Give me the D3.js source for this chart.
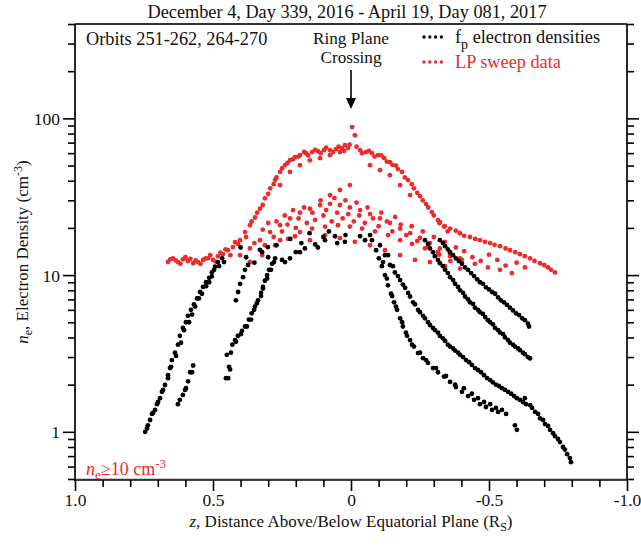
<!DOCTYPE html>
<html><head><meta charset="utf-8">
<script src="https://cdn.jsdelivr.net/npm/d3@7"></script>
<style>
body{margin:0;background:#fff}
text{font-family:"Liberation Serif","Times New Roman",serif;fill:#111}
</style>
</head><body>
<svg id="chart" width="641" height="548"></svg>
<script>
// Electron density vs. distance from the equatorial plane, [z (R_S), n_e (cm^-3)]
// f_p (upper hybrid / plasma frequency) densities, grouped by pass
const fpLeftOuter = [[.746,1.0],[.739,1.05],[.728,1.19],[.721,1.3],[.71,1.38],[.703,1.5],[.692,1.64],[.685,1.8],[.674,1.99],[.663,2.3],[.656,2.55],[.649,2.87],[.638,3.2],[.627,3.6],[.62,4.1],[.609,4.6],[.598,5.0],[.591,5.5],[.58,6.0],[.569,6.5],[.558,7.1],[.547,7.8],[.536,8.4],[.525,9.0],[.514,9.6],[.504,10.4],[.493,11.3],[.482,12.1],[.467,12.8]];
const fpLeftOuter2 = [[.736,1.10],[.717,1.32],[.699,1.55],[.681,1.85],[.663,2.2],[.652,2.6],[.634,3.05],[.616,3.7],[.605,4.45],[.587,5.0],[.576,5.6],[.565,6.3],[.551,7.1],[.54,7.6],[.525,8.5],[.514,9.0],[.504,9.8],[.496,10.8],[.478,11.4],[.46,12.1]];
const fpLeftInner = [[.62,1.6],[.601,1.85],[.59,2.1],[.583,2.4],[.572,2.65],[.445,2.2],[.438,2.5],[.45,3.1],[.43,3.6],[.42,3.85],[.41,4.1],[.395,4.4],[.384,4.7],[.37,5.2],[.36,5.7],[.348,6.3],[.337,6.9],[.326,7.7],[.319,8.4],[.312,9.2],[.304,10.0],[.297,10.8],[.286,11.8],[.275,12.8]];
const fpLeftInner2 = [[.627,1.5],[.609,1.72],[.598,1.9],[.576,2.4],[.453,2.2],[.442,2.6],[.435,3.2],[.417,3.75],[.399,4.2],[.377,4.7],[.362,5.2],[.351,6.0],[.341,6.6],[.326,7.35],[.319,8.2],[.304,9.5],[.29,10.8],[.279,12.1],[.417,6.9],[.409,7.8],[.402,8.8],[.391,9.7],[.384,10.8],[.373,11.6]];
const fpCentre = [[.40,15],[.38,13],[.35,12],[.33,14.5],[.3,13],[.27,15.5],[.25,12.5],[.22,17],[.2,14],[.18,16],[.15,18.5],[.12,15],[.1,17.5],[.08,19],[.05,16],[.02,18],[.322,14.0],[.301,15.1],[.239,12.1],[.221,12.8],[.185,14.0],[.167,14.8],[.13,15.7],[.094,16.7],[.058,17.7],[.022,16.3],[-.033,17.7],[-.051,16.7],[-.069,18]];
const fpRightA = [[-.076,16.7],[-.091,14.4],[-.101,12.8],[-.112,11.4],[-.123,10],[-.134,8.6],[-.145,7.6],[-.156,6.7],[-.167,6.0],[-.178,5.3],[-.188,4.7],[-.199,4.3],[-.214,3.85],[-.228,3.5],[-.243,3.18],[-.261,2.95],[-.279,2.75],[-.297,2.55],[-.315,2.4],[-.337,2.25],[-.359,2.08],[-.38,1.93],[-.402,1.8],[-.424,1.69],[-.446,1.6],[-.467,1.5],[-.489,1.44],[-.511,1.38],[-.533,1.34],[-.594,1.1],[-.601,1.03],[-.649,1.48],[-.667,1.34],[-.685,1.22],[-.703,1.12],[-.721,1.03],[-.739,0.94],[-.757,0.86],[-.775,0.77],[-.793,0.68]];
const fpRightA2 = [[-.116,12.1],[-.13,9.5],[-.149,7.35],[-.163,6.3],[-.185,5.0],[-.203,4.1],[-.221,3.6],[-.25,3.2],[-.272,2.87],[-.308,2.55],[-.344,2.27],[-.377,2.0],[-.409,1.9],[-.438,1.75],[-.46,1.64],[-.482,1.55],[-.504,1.5],[-.525,1.42],[-.547,1.38],[-.562,1.3],[-.63,1.64],[-.656,1.42],[-.678,1.3],[-.696,1.19],[-.714,1.09],[-.732,0.98],[-.75,0.9],[-.768,0.8],[-.783,0.72],[-.797,0.64]];
const fpRightB = [[-.105,15.5],[-.123,13.4],[-.141,11.6],[-.159,10.4],[-.178,9.3],[-.196,8.3],[-.214,7.3],[-.232,6.5],[-.25,5.8],[-.268,5.3],[-.286,4.8],[-.304,4.46],[-.322,4.1],[-.341,3.8],[-.359,3.5],[-.377,3.3],[-.395,3.1],[-.417,2.87],[-.438,2.67],[-.46,2.48],[-.482,2.3],[-.504,2.14],[-.525,2.0],[-.547,1.9],[-.569,1.8],[-.591,1.69],[-.612,1.6],[-.634,1.5]];
const fpRightB2 = [[-.134,13.4],[-.152,11.4],[-.17,9.85],[-.188,8.7],[-.207,7.7],[-.225,6.7],[-.243,6.0],[-.261,5.5],[-.279,5.0],[-.297,4.6],[-.315,4.3],[-.333,3.95],[-.351,3.6],[-.37,3.4],[-.388,3.2],[-.406,3.0],[-.428,2.78],[-.449,2.55],[-.471,2.4],[-.493,2.2],[-.514,2.07],[-.536,1.96],[-.558,1.85],[-.58,1.75],[-.601,1.64],[-.623,1.55]];
const fpRightC = [[-.268,16.7],[-.286,14.8],[-.304,13.2],[-.322,11.9],[-.341,10.8],[-.359,9.7],[-.377,8.8],[-.395,8.0],[-.413,7.3],[-.431,6.7],[-.449,6.2],[-.467,5.8],[-.486,5.4],[-.504,5.0],[-.522,4.6],[-.54,4.3],[-.558,4.0],[-.576,3.7],[-.594,3.5],[-.612,3.32],[-.63,3.13],[-.649,2.94]];
const fpRightC2 = [[-.279,15.8],[-.297,14.0],[-.315,12.5],[-.333,11.4],[-.351,10.3],[-.37,9.3],[-.388,8.4],[-.406,7.7],[-.424,7.0],[-.442,6.55],[-.46,6.0],[-.478,5.65],[-.496,5.16],[-.514,4.85],[-.533,4.45],[-.551,4.2],[-.569,3.85],[-.587,3.6],[-.605,3.4],[-.623,3.2],[-.641,3.0]];
const fpRightD = [[-.322,16.7],[-.341,15.3],[-.359,14.0],[-.38,12.8],[-.402,11.8],[-.424,10.8],[-.446,9.85],[-.467,9.0],[-.489,8.35],[-.511,7.8],[-.533,7.2],[-.554,6.7],[-.576,6.2],[-.598,5.7],[-.62,5.3],[-.641,4.9]];
const fpRightD2 = [[-.333,16.0],[-.351,14.6],[-.37,13.4],[-.391,12.3],[-.413,11.2],[-.435,10.3],[-.457,9.4],[-.478,8.8],[-.5,8.1],[-.522,7.6],[-.543,6.9],[-.565,6.45],[-.587,5.95],[-.609,5.56],[-.63,5.16],[-.645,4.7]];

// Langmuir probe sweep densities (n_e >= 10 cm^-3)
const lpUpperArc = [[.402,16.7],[.384,18.8],[.366,20.8],[.348,23.3],[.33,26.5],[.312,30.9],[.293,35.8],[.275,40.4],[.257,45.5],[.239,50.3],[.221,54.1],[.203,56.5],[.185,58.2],[.163,60],[.141,60.9],[.12,61.8],[.098,62.7],[.076,62.7],[.054,63.7],[.033,64.6],[.011,64.6],[-.004,88],[-.014,78],[-.033,62.7],[-.054,60.9],[-.076,60],[-.098,58.2],[-.12,55.7],[-.141,52.6],[-.163,50],[-.185,45.5],[-.207,40.4],[-.228,35.8],[-.25,31.9],[-.272,28.4],[-.293,25.2],[-.315,22.4],[-.337,20.4]];
const lpUpperArc2 = [[.38,17.5],[.36,22],[.34,25],[.32,28],[.3,33],[.28,38],[.27,42],[.25,48],[.23,52],[.21,55],[.19,57],[.17,61],[.155,58],[.13,63],[.11,60],[.09,65],[.065,61],[.045,66],[.025,62],[.005,68],[-.02,66],[-.04,60],[-.065,62],[-.085,57],[-.11,58],[-.13,53],[-.15,50.5],[-.17,47.5],[-.195,42],[-.22,38],[-.24,33.5],[-.26,30],[-.28,27],[-.3,24],[-.32,21.5],[-.35,19]];
const lpInnerArc = [[.257,37.5],[.221,45.5],[.185,50.3],[.149,54],[.112,55.7],[.076,58.2],[.04,61],[.022,67.5],[-.069,50.3],[-.105,46.7],[-.141,43.4],[-.178,37.5],[-.214,32.4]];
const lpLeftFlat = [[.663,12.1],[.645,12.8],[.627,12.1],[.609,12.6],[.591,12.3],[.572,11.9],[.554,12.1],[.536,12.5],[.518,12.8],[.5,12.5],[.482,13.2],[.464,13.6],[.446,14.4],[.428,15.1],[.409,15.8],[.655,12.6],[.635,12.4],[.618,11.8],[.6,13],[.582,12.7],[.563,12.4],[.545,11.8],[.527,12.8],[.51,13.4],[.49,12.2],[.473,13.9],[.455,14.6],[.437,13.4],[.42,16.2]];
const lpBandA = [[.402,13.4],[.366,14.8],[.33,16.7],[.293,18.8],[.257,20.8],[.221,23],[.185,25],[.149,26.5],[.112,28],[.076,28.5],[.04,28],[.004,27],[-.033,26],[-.069,24.5],[-.105,23],[-.141,21.5],[-.178,19.8],[-.214,18.5],[-.25,17.3],[-.286,16],[-.322,14.8],[-.359,13.8],[-.395,12.8]];
const lpBandB = [[.366,12.1],[.322,13.4],[.275,15.5],[.228,17],[.185,18.8],[.141,19.8],[.094,20.4],[.047,20.8],[.004,20.4],[-.04,19.8],[-.087,19],[-.134,18],[-.178,16.7],[-.221,15.8],[-.268,14.8],[-.315,14],[-.359,13.2],[-.402,12.5],[-.449,11.8],[-.496,11.2],[-.54,10.8],[-.583,10.3]];
const lpBandC = [[.312,15.5],[.257,16.7],[.203,17.7],[.149,16.7],[.094,18],[.04,17.2],[-.014,16.3],[-.069,15.5],[-.123,14.4],[-.178,13.4],[-.232,12.5],[-.286,12.1],[-.341,11.4],[-.395,11],[.076,32.4],[.04,34.9],[.004,37.5]];
const lpCloud = [[.35,16],[.32,19.5],[.30,21.5],[.28,17.5],[.27,22],[.25,19],[.24,24],[.23,21],[.21,26],[.2,20],[.19,23],[.17,27],[.16,21.5],[.14,25],[.13,22.5],[.11,30],[.1,24],[.09,26],[.07,22],[.06,31],[.05,25],[.03,23],[.02,30],[.01,24.5],[-.01,22],[-.02,29],[-.03,24],[-.05,21.5],[-.06,27],[-.08,23],[-.1,20.5],[-.11,25],[-.13,22],[-.15,19],[-.16,23.5],[-.18,21],[-.2,18],[-.22,20.5],[-.24,16.5],[-.26,19],[-.28,15.2],[-.3,17.5],[-.32,13.5],[-.34,16.3],[-.36,12.3],[-.38,15],[-.41,14.2],[-.44,13],[-.47,12.3],[-.5,13.5],[-.53,12.5],[-.56,11.5],[-.6,12],[-.63,11.2]];
const lpRightLine = [[-.322,21.8],[-.359,19.8],[-.395,18.5],[-.431,17.5],[-.467,16.7],[-.504,16],[-.54,15.3],[-.576,14.4],[-.612,13.6],[-.649,12.8],[-.685,11.9],[-.714,11.2],[-.739,10.4],[-.34,20.5],[-.38,19.2],[-.41,17.8],[-.45,17],[-.485,16.3],[-.52,15.6],[-.56,14.8],[-.595,14],[-.63,13.2],[-.665,12.3],[-.7,11.6],[-.725,10.8]];

const fpPoints = [].concat(fpLeftOuter, fpLeftOuter2, fpLeftInner, fpLeftInner2, fpCentre,
  fpRightA, fpRightA2, fpRightB, fpRightB2, fpRightC, fpRightC2, fpRightD, fpRightD2);
const lpPoints = [].concat(lpUpperArc, lpUpperArc2, lpInnerArc, lpLeftFlat, lpBandA, lpBandB, lpBandC, lpCloud, lpRightLine);

const xMajor = [1.0, 0.5, 0, -0.5, -1.0];
const xMajorLabels = ["1.0", "0.5", "0", "-0.5", "-1.0"];
const yMajor = [1, 10, 100];
const yMajorLabels = ["1", "10", "100"];

const RED = "#ee2a2a";
const L = 75, R = 627, T = 24, B = 479;

const svg = d3.select("#chart");
const x = d3.scaleLinear().domain([1, -1]).range([L, R]);
const y = d3.scaleLog().domain([0.5, 400]).range([B, T]);

// minor ticks
const xMinor = d3.range(-10, 11).map(i => i / 10).filter(v => !xMajor.some(m => Math.abs(m - v) < 1e-9));
const yMinor = [0.5,0.6,0.7,0.8,0.9,2,3,4,5,6,7,8,9,20,30,40,50,60,70,80,90,200,300,400];

// frame
svg.append("rect").attr("x", L).attr("y", T).attr("width", R - L).attr("height", B - T)
  .attr("fill", "none").attr("stroke", "#9a9a9a").attr("stroke-width", 1);

function styleAxis(g) {
  g.select(".domain").remove();
  g.selectAll(".tick line").attr("stroke", "#000").attr("stroke-width", 1.6);
  g.selectAll(".tick text").style("font-size", "17.5px").attr("fill", "#111");
}

// bottom axis
const gxMinor = svg.append("g").attr("transform", `translate(0,${B + 1})`)
  .call(d3.axisBottom(x).tickValues(xMinor).tickSize(7).tickFormat(""));
styleAxis(gxMinor);
const gx = svg.append("g").attr("transform", `translate(0,${B + 1})`)
  .call(d3.axisBottom(x).tickValues(xMajor).tickSize(11).tickPadding(3)
    .tickFormat((d, i) => xMajorLabels[i]));
styleAxis(gx);

// left axis
const gyMinor = svg.append("g").attr("transform", `translate(${L},0)`)
  .call(d3.axisLeft(y).tickValues(yMinor).tickSize(7).tickFormat(""));
styleAxis(gyMinor);
const gy = svg.append("g").attr("transform", `translate(${L},0)`)
  .call(d3.axisLeft(y).tickValues(yMajor).tickSize(12).tickPadding(3)
    .tickFormat((d, i) => yMajorLabels[i]));
styleAxis(gy);
gy.selectAll(".tick text").attr("dy", "0.34em");

// right axis
const gr1 = svg.append("g").attr("transform", `translate(${R},0)`)
  .call(d3.axisRight(y).tickValues(yMinor).tickSize(7).tickFormat(""));
styleAxis(gr1);
const gr2 = svg.append("g").attr("transform", `translate(${R},0)`)
  .call(d3.axisRight(y).tickValues(yMajor).tickSize(12).tickFormat(""));
styleAxis(gr2);

// axis lines
const axisLine = (x1, y1, x2, y2) => svg.append("line").attr("x1", x1).attr("y1", y1).attr("x2", x2).attr("y2", y2)
  .attr("stroke", "#000").attr("stroke-width", 1.6);
axisLine(L, T, L, B + 1.8);
axisLine(R, T, R, B + 1.8);
axisLine(L, T, R, T);
axisLine(L - 0.8, B + 1, R + 0.8, B + 1);

// data
const plot = svg.append("g");
plot.selectAll("circle.lp").data(lpPoints).join("circle").attr("class", "lp")
  .attr("cx", d => x(d[0])).attr("cy", d => y(d[1])).attr("r", 2.4).attr("fill", RED);
plot.selectAll("circle.fp").data(fpPoints).join("circle").attr("class", "fp")
  .attr("cx", d => x(d[0])).attr("cy", d => y(d[1])).attr("r", 2.4).attr("fill", "#000");

// title
svg.append("text").attr("x", 347).attr("y", 18).attr("text-anchor", "middle")
  .style("font-size", "18.3px").text("December 4, Day 339, 2016 - April 19, Day 081, 2017");

svg.append("text").attr("x", 86).attr("y", 45).style("font-size", "18.3px").text("Orbits 251-262, 264-270");

svg.append("text").attr("x", 351).attr("y", 43.5).attr("text-anchor", "middle").style("font-size", "17.2px").text("Ring Plane");
svg.append("text").attr("x", 351).attr("y", 62.7).attr("text-anchor", "middle").style("font-size", "17.2px").text("Crossing");

// arrow
svg.append("line").attr("x1", x(0)).attr("x2", x(0)).attr("y1", 70).attr("y2", 100)
  .attr("stroke", "#000").attr("stroke-width", 1.6);
svg.append("path").attr("d", `M${x(0) - 5},${98} L${x(0) + 5},${98} L${x(0)},${109} Z`).attr("fill", "#000");

// legend
const legend = [{c: "#000", y: 37}, {c: RED, y: 62}];
legend.forEach(l => {
  [0, 1, 2, 3].forEach(i => svg.append("circle").attr("cx", 424 + i * 5.8).attr("cy", l.y).attr("r", 1.7).attr("fill", l.c));
});
const t1 = svg.append("text").attr("x", 455).attr("y", 43).style("font-size", "18.3px");
t1.append("tspan").text("f");
t1.append("tspan").attr("dy", 6).style("font-size", "14px").text("p");
t1.append("tspan").attr("dy", -6).text(" electron densities");
svg.append("text").attr("x", 455).attr("y", 68).style("font-size", "18.3px")
  .style("fill", RED).text("LP sweep data");

// threshold note
const tn = svg.append("text").attr("x", 86).attr("y", 475).style("font-size", "18px").style("fill", RED);
tn.append("tspan").style("font-style", "italic").style("fill", RED).text("n");
tn.append("tspan").attr("dy", 4).style("font-size", "13px").style("fill", RED).text("e");
tn.append("tspan").attr("dy", -4).style("fill", RED).text("\u226510 cm");
tn.append("tspan").attr("dy", -7).style("font-size", "13px").style("fill", RED).text("-3");

// x title
const xt = svg.append("text").attr("x", 351).attr("y", 527).attr("text-anchor", "middle").style("font-size", "17px");
xt.append("tspan").style("font-style", "italic").text("z");
xt.append("tspan").text(", Distance Above/Below Equatorial Plane (R");
xt.append("tspan").attr("dy", 4).style("font-size", "12px").text("S");
xt.append("tspan").attr("dy", -4).text(")");

// y title
const yt = svg.append("text").attr("transform", "translate(28,252) rotate(-90)").attr("text-anchor", "middle").style("font-size", "17px");
yt.append("tspan").style("font-style", "italic").text("n");
yt.append("tspan").attr("dy", 4).style("font-size", "12px").text("e");
yt.append("tspan").attr("dy", -4).text(", Electron Density (cm");
yt.append("tspan").attr("dy", -6).style("font-size", "12px").text("-3");
yt.append("tspan").attr("dy", 6).text(")");
</script>
</body></html>
